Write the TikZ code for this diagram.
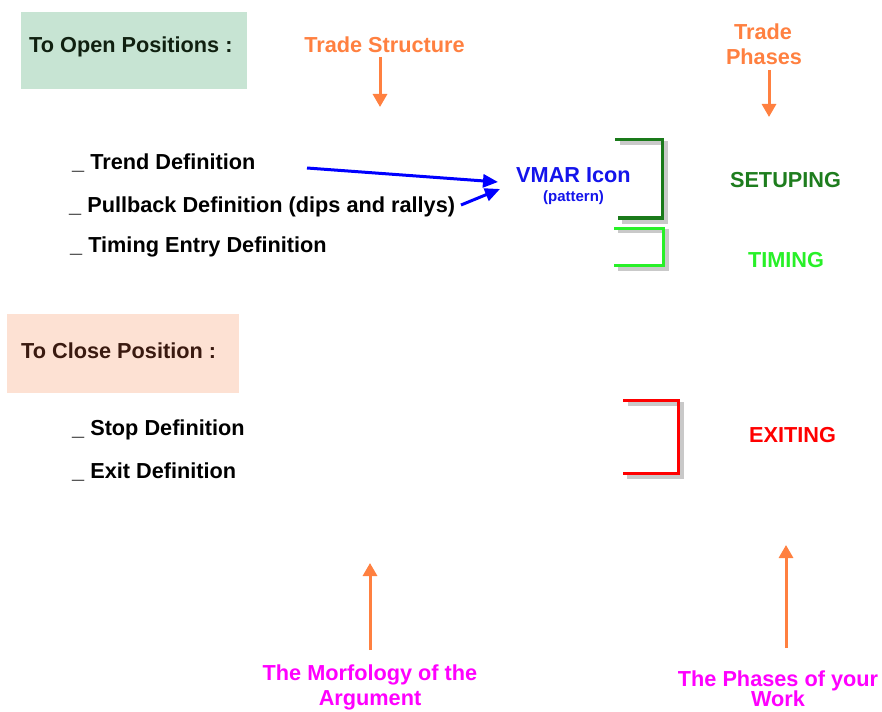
\documentclass[tikz,border=0pt]{standalone}
\usepackage{fontspec}
\setmainfont{Liberation Sans}
\usetikzlibrary{arrows.meta}
\definecolor{orangeC}{RGB}{255,128,64}
\definecolor{magC}{RGB}{255,0,255}
\definecolor{blueC}{RGB}{0,0,255}
\definecolor{vmarC}{RGB}{20,20,235}
\definecolor{dgreenC}{RGB}{26,122,26}
\definecolor{dgreenT}{RGB}{30,125,30}
\definecolor{lgreenC}{RGB}{40,240,40}
\definecolor{redC}{RGB}{255,0,0}
\definecolor{boxG}{RGB}{199,228,211}
\definecolor{boxP}{RGB}{253,225,211}
\definecolor{openT}{RGB}{16,32,16}
\definecolor{closeT}{RGB}{58,26,16}
\tikzset{
  txt/.style={inner sep=0pt, font=\fontsize{21.7}{25}\selectfont\bfseries},
  small/.style={inner sep=0pt, font=\fontsize{15}{17}\selectfont\bfseries},
  orarrow/.style={draw=orangeC, line width=3pt, -{Triangle[width=14pt,length=13pt]}},
  bluearrow/.style={draw=blueC, line width=3pt, -{Triangle[width=13pt,length=15pt]}},
  bracket/.style={line width=3pt},
  shadowline/.style={draw=black!30, line width=4pt, opacity=0.7},
}
\begin{document}
\begin{tikzpicture}[x=1pt,y=-1pt]
\useasboundingbox (0,0) rectangle (882,711);
% boxes
\fill[boxG] (21,12) rectangle (247,89);
\fill[boxP] (7,314) rectangle (239,393);
\node[txt, text=openT, anchor=base west] (open) at (29,53) {To Open Positions :};
\node[txt, text=closeT, anchor=base west] (close) at (21,358) {To Close Position :};
% headers
\node[txt, text=orangeC, anchor=base] (ts) at (384.5,53) {Trade Structure};
\node[txt, text=orangeC, anchor=base] (tp1) at (763,40) {Trade};
\node[txt, text=orangeC, anchor=base] (tp2) at (764,65) {Phases};
\coordinate (tsA) at (380,57);
\coordinate (tsB) at (380,107);
\coordinate (tpA) at (769,70);
\coordinate (tpB) at (769,117);
\draw[orarrow] (tsA) -- (tsB);
\draw[orarrow] (tpA) -- (tpB);
% list
\node[txt, anchor=base west] (trend) at (72,170) {\_ Trend Definition};
\node[txt, anchor=base west] (pull) at (69,212) {\_ Pullback Definition (dips and rallys)};
\node[txt, anchor=base west] (timing) at (70,252) {\_ Timing Entry Definition};
\node[txt, anchor=base west] (stop) at (72,435) {\_ Stop Definition};
\node[txt, anchor=base west] (exit) at (72,478) {\_ Exit Definition};
% VMAR
\node[txt, text=vmarC, anchor=base] (vmar) at (573.5,183) {VMAR Icon};
\node[small, text=vmarC, anchor=base] (pat) at (573.5,201) {(pattern)};
\coordinate (a1s) at (307,168);
\coordinate (a1e) at (498,182);
\coordinate (a2s) at (461,205);
\coordinate (a2e) at (500,189);
\draw[bluearrow] (a1s) -- (a1e);
\draw[bluearrow] (a2s) -- (a2e);
% brackets with shadows
\draw[shadowline] (620,143) -- (666,143) -- (666,222) -- (622,222);
\draw[bracket, dgreenC] (615,140) -- (662,140) -- (662,218) -- (618,218);
\draw[shadowline] (618,231) -- (667,231) -- (667,269) -- (618,269);
\draw[bracket, lgreenC] (614,228) -- (663,228) -- (663,265) -- (614,265);
\draw[shadowline] (628,404) -- (682,404) -- (682,477) -- (627,477);
\draw[bracket, redC] (623,400) -- (678,400) -- (678,473) -- (623,473);
% phases
\node[txt, text=dgreenT, anchor=base] (setup) at (785.5,188) {SETUPING};
\node[txt, text=lgreenC, anchor=base] (tim) at (786,267) {TIMING};
\node[txt, text=redC, anchor=base] (exiting) at (792.5,442) {EXITING};
% bottom
\coordinate (b1s) at (370,650);
\coordinate (b1e) at (370,563);
\coordinate (b2s) at (786,648);
\coordinate (b2e) at (786,545);
\draw[orarrow] (b1s) -- (b1e);
\draw[orarrow] (b2s) -- (b2e);
\node[txt, text=magC, anchor=base] (morf1) at (370,680) {The Morfology of the};
\node[txt, text=magC, anchor=base] (morf2) at (370,705) {Argument};
\node[txt, text=magC, anchor=base] (ph1) at (778,686) {The Phases of your};
\node[txt, text=magC, anchor=base] (ph2) at (778,706) {Work};
\end{tikzpicture}
\end{document}
